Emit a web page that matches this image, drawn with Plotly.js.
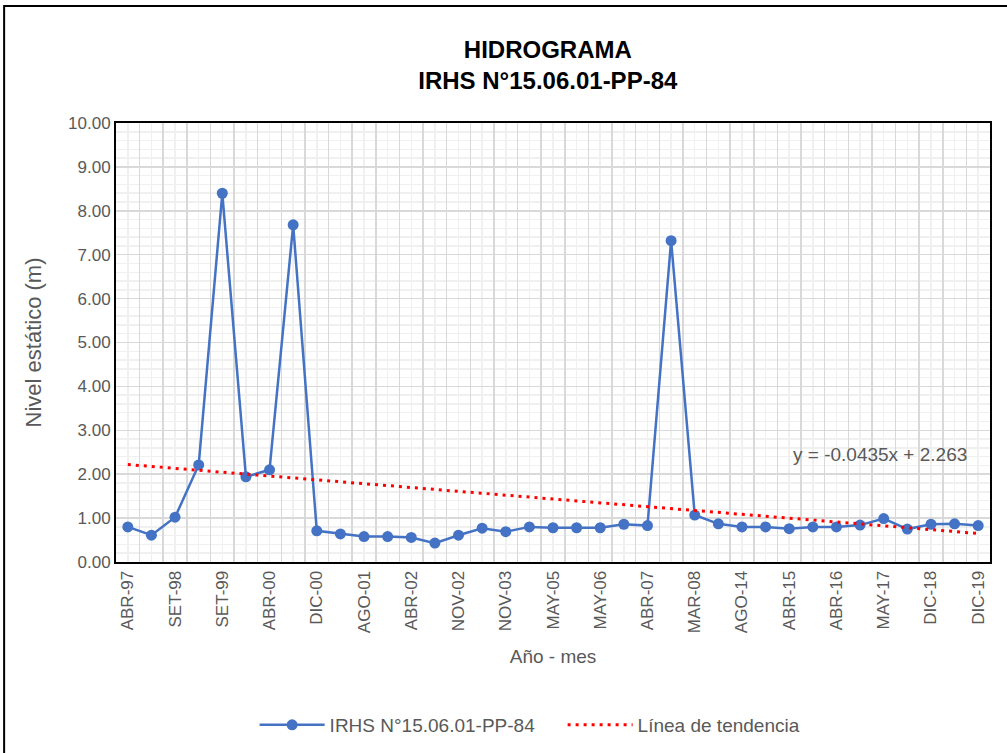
<!DOCTYPE html>
<html>
<head>
<meta charset="utf-8">
<script src="https://cdn.plot.ly/plotly-3.0.1.min.js"></script>
<style>html,body{margin:0;padding:0;background:#fff;}#chart{width:1007px;height:753px;}</style>
</head>
<body>
<div id="chart"></div>
<script>
// Category index (1..37) and observed static level (m)
const xIndex = [1,2,3,4,5,6,7,8,9,10,11,12,13,14,15,16,17,18,19,20,21,22,23,24,25,26,27,28,29,30,31,32,33,34,35,36,37];
const nivel = [0.80,0.61,1.02,2.21,8.40,1.94,2.10,7.68,0.71,0.64,0.58,0.58,0.56,0.43,0.61,0.77,0.69,0.80,0.78,0.78,0.78,0.86,0.83,7.32,1.07,0.87,0.80,0.80,0.76,0.80,0.80,0.84,0.99,0.75,0.86,0.87,0.83];
// Tick labels (every other category)
const tickPos = [1,3,5,7,9,11,13,15,17,19,21,23,25,27,29,31,33,35,37];
const tickLabels = ["ABR-97","SET-98","SET-99","ABR-00","DIC-00","AGO-01","ABR-02","NOV-02","NOV-03","MAY-05","MAY-06","ABR-07","MAR-08","AGO-14","ABR-15","ABR-16","MAY-17","DIC-18","DIC-19"];
// Trend line end points
const trendX = [1,37];
const trendY = [2.22,0.65];
const seriesName = "IRHS N°15.06.01-PP-84";
const trendName = "Línea de tendencia";
const equation = "y = -0.0435x + 2.263";

const FONT = "Liberation Sans, Arial, sans-serif";
const GRAY = "#595959";

const traces = [
  // invisible carrier so the category-boundary grid axis is drawn
  {x: xIndex, y: nivel, type: "scatter", mode: "markers", xaxis: "x2", yaxis: "y",
   marker: {opacity: 0}, hoverinfo: "skip", showlegend: false},
  {x: xIndex, y: nivel, type: "scatter", mode: "lines+markers", name: seriesName,
   line: {color: "#4472C4", width: 2.5}, marker: {color: "#4472C4", size: 11}},
  {x: trendX, y: trendY, type: "scatter", mode: "lines", name: trendName,
   line: {color: "#FF0000", width: 3, dash: "3px,5px"}}
];

const layout = {
  width: 1007, height: 753,
  margin: {l: 116, r: 17, t: 123, b: 191, autoexpand: false},
  paper_bgcolor: "#ffffff", plot_bgcolor: "#ffffff",
  font: {family: FONT, color: GRAY},
  title: {text: "HIDROGRAMA<br>IRHS N°15.06.01-PP-84", font: {family: FONT, size: 24, color: "#000", weight: 700},
          xref: "container", x: 0.544, xanchor: "center", yref: "container", y: 0.923, yanchor: "middle"},
  xaxis: {range: [0.5, 37.5], tickmode: "array", tickvals: tickPos, ticktext: tickLabels, tickangle: -90,
          showgrid: false, zeroline: false, showline: true, mirror: true, linecolor: "#000", linewidth: 2,
          ticks: "", tickfont: {size: 17, color: GRAY},
          title: {text: "Año - mes", font: {size: 19, color: GRAY}, standoff: 18}},
  xaxis2: {overlaying: "x", anchor: "y", range: [0.5, 37.5], tick0: 0.5, dtick: 1, showticklabels: false,
           showgrid: true, gridcolor: "#d9d9d9", gridwidth: 1.5, zeroline: false, ticks: "", showline: false,
           minor: {tick0: 0.5, dtick: 0.5, showgrid: true, gridcolor: "#f0f0f0", gridwidth: 1.5}},
  yaxis: {range: [0, 10], dtick: 1, tickformat: ".2f", showgrid: true, gridcolor: "#d9d9d9", gridwidth: 1.5,
          minor: {dtick: 0.2, showgrid: true, gridcolor: "#f0f0f0", gridwidth: 1.5},
          zeroline: false, showline: true, mirror: true, linecolor: "#000", linewidth: 2, ticks: "",
          tickfont: {size: 17, color: GRAY},
          title: {text: "Nivel estático (m)", font: {size: 22, color: GRAY}, standoff: 20}},
  legend: {orientation: "h", x: 0.511, xanchor: "center", yref: "container", y: 0.0372, yanchor: "middle",
           itemwidth: 65, entrywidth: 228, traceorder: "normal",
           font: {size: 19, color: GRAY}, bgcolor: "rgba(0,0,0,0)"},
  annotations: [{text: equation, xref: "x", yref: "y", x: 32.85, y: 2.44, showarrow: false,
                 font: {size: 19, color: GRAY}}],
  shapes: [{type: "rect", xref: "paper", yref: "paper", x0: -0.128, x1: 1.03, y0: -0.46, y1: 1.2665,
            line: {color: "#000", width: 2}, fillcolor: "rgba(0,0,0,0)", layer: "below"}]
};

Plotly.newPlot("chart", traces, layout, {displayModeBar: false, staticPlot: true});
</script>
</body>
</html>
